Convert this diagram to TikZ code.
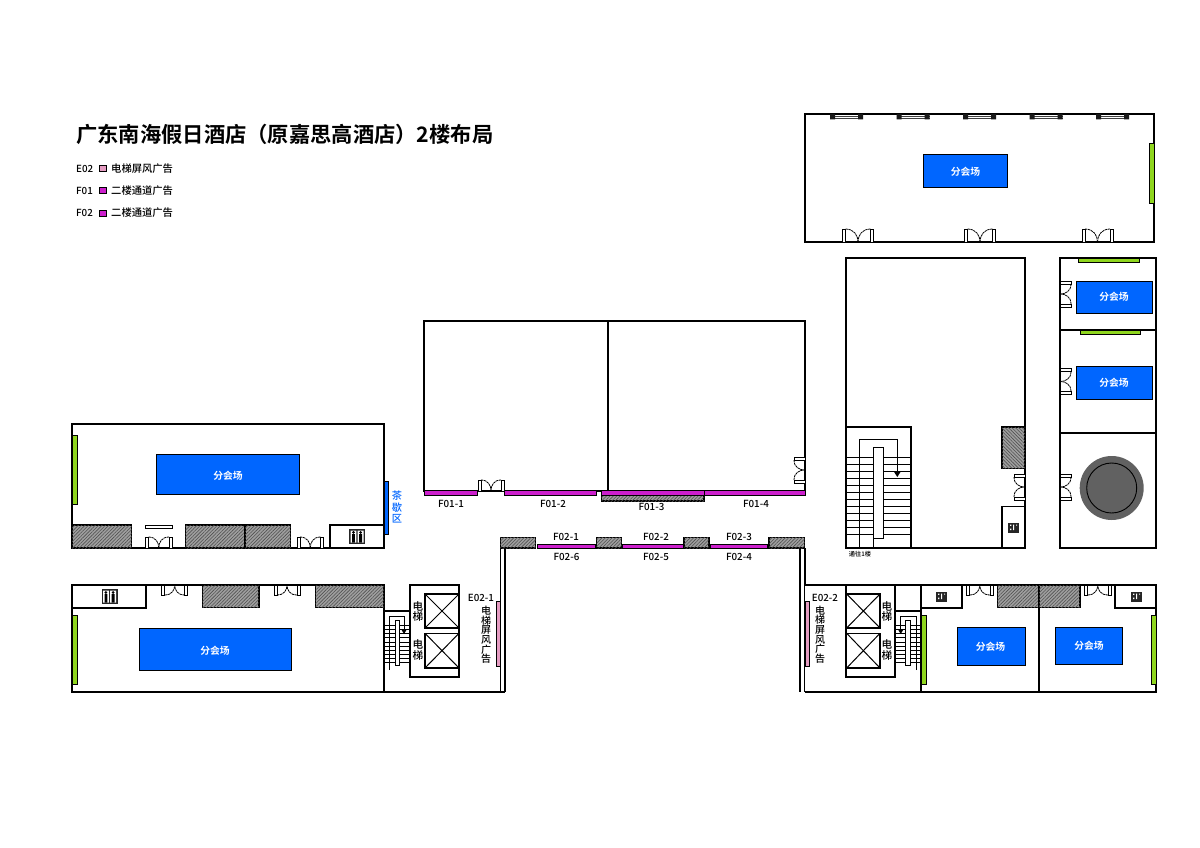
\documentclass[tikz,border=0pt]{standalone}
\usepackage{fontspec}
\setmainfont{Noto Sans CJK SC}[UprightFont=* Medium,BoldFont=* Bold]
\usetikzlibrary{patterns.meta}
\definecolor{hallblue}{HTML}{0066FF}
\definecolor{wallgreen}{HTML}{8FD61E}
\definecolor{adpink}{HTML}{E59CC2}
\definecolor{admag}{HTML}{CC1FCC}
\definecolor{hatchdark}{HTML}{505050}
\tikzset{
  wall/.style={draw=black,line width=1.4pt,fill=white},
  ln/.style={draw=black,line width=1.4pt},
  thinln/.style={draw=black,line width=1pt},
  hatch/.style={draw=black,line width=1.1pt,fill=gray!75,postaction={pattern={Lines[angle=45,distance=2.4pt,line width=.6pt]},pattern color=hatchdark}},
  hatchb/.style={draw=black,line width=1.1pt,fill=gray!75,postaction={pattern={Lines[angle=-45,distance=2.4pt,line width=.6pt]},pattern color=hatchdark}},
  hall/.style={draw=black,line width=1pt,fill=hallblue},
  green/.style={draw=black,line width=.9pt,fill=wallgreen},
  pinkbar/.style={draw=black,line width=.7pt,fill=adpink},
  magbar/.style={draw=black,line width=.6pt,fill=admag},
  hallt/.style={text=white,font=\fontsize{9.8}{10}\selectfont\bfseries,inner sep=0pt},
  lab/.style={text=black,font=\fontsize{9.8}{10}\selectfont,inner sep=0pt},
  ltx/.style={text=black,font=\fontsize{10.3}{10}\selectfont,inner sep=0pt},
  vlab/.style={text=black,font=\fontsize{10}{9.6}\selectfont,inner sep=0pt,align=center},
  vlabb/.style={text=black,font=\fontsize{10.6}{9.6}\selectfont,inner sep=0pt,align=center},
}
\newcommand{\doorpair}[4]{% origin, transform, width, depth
  \begin{scope}[shift={(#1)},#2]
    \draw[wall,line width=.9pt] (0,0) rectangle (3,-#4);
    \draw[wall,line width=.9pt] (#3-3,0) rectangle (#3,-#4);
    \draw[black,line width=.8pt,dash pattern=on 2.4pt off .6pt] (3,-#4) .. controls (3+#3*.28,-#4) and (#3*.5,-#4*.5) .. (#3*.5,0);
    \draw[black,line width=.8pt,dash pattern=on 2.4pt off .6pt] (#3-3,-#4) .. controls (#3-3-#3*.28,-#4) and (#3*.5,-#4*.5) .. (#3*.5,0);
  \end{scope}}
\newcommand{\wc}[1]{% large toilet icon, top-left corner
  \begin{scope}[shift={(#1)}]
    \fill[black!85] (0,0) rectangle (16,15);
    \fill[white] (1.5,1.5) rectangle (7.3,13.5) (8.7,1.5) rectangle (14.5,13.5);
    \fill[black] (4.4,3.4) circle (1.5) (11.6,3.4) circle (1.5);
    \fill[black] (3,5) rectangle (5.8,13.5) (10.2,5) rectangle (13,13.5);
  \end{scope}}
\newcommand{\wcs}[1]{%
  \begin{scope}[shift={(#1)}]
    \fill[black!85] (0,0) rectangle (11,10);
    \fill[white] (2,2) rectangle (3.4,3.4) (2,6) rectangle (3.4,7.6) (5,2) rectangle (6.2,7.6) (8,2) rectangle (9,3.2);
  \end{scope}}
\newcommand{\window}[1]{%
  \begin{scope}[shift={(#1,114)}]
    \draw[black!75,line width=.8pt] (0,2) -- (33,2) (0,4.6) -- (33,4.6);
    \fill[black!90] (0,0) rectangle (5,5.4) (28,0) rectangle (33,5.4);
  \end{scope}}
\newcommand{\elev}[2]{% x1,y1 x2,y2
  \draw[wall] (#1) rectangle (#2);
  \path (#1) coordinate (eA) (#2) coordinate (eB);
  \draw[thinln] (eA) -- (eB) (eA |- eB) -- (eB |- eA);}
\begin{document}
\begin{tikzpicture}[x=1pt,y=-1pt]
\useasboundingbox (0,0) rectangle (1200,848);
\fill[white] (0,0) rectangle (1200,848);

% title and legend
\node[anchor=west,inner sep=0pt,font=\fontsize{21.3}{22}\selectfont\bfseries] (title) at (76,134.5) {广东南海假日酒店（原嘉思高酒店）2楼布局};
\node[lab,anchor=west] (le1) at (76,169) {E02};
\node[lab,anchor=west] (le2) at (76,191) {F01};
\node[lab,anchor=west] (le3) at (76,213) {F02};
\draw[pinkbar,line width=1pt] (99,166) rectangle (106.5,172);
\draw[magbar,line width=1pt] (99,188) rectangle (106.5,194);
\draw[magbar,line width=1pt] (99,210) rectangle (106.5,216);
\node[ltx,anchor=west] (lt1) at (111,169) {电梯屏风广告};
\node[ltx,anchor=west] (lt2) at (111,191) {二楼通道广告};
\node[ltx,anchor=west] (lt3) at (111,213) {二楼通道广告};

% top right hall
\draw[wall] (805,114) rectangle (1154,242);
\window{830}\window{896.5}\window{963}\window{1029.5}\window{1096}
\draw[green] (1149,143) rectangle (1154,203);
\draw[hall] (923,155) rectangle (1007.5,188);
\node[hallt] (h1) at (965.5,172) {分会场};
\doorpair{842.5,242}{}{31}{13}
\doorpair{964.5,242}{}{31}{13}
\doorpair{1082,242}{}{31}{13}

% tall room
\draw[wall] (846,258) rectangle (1025,548);
\draw[ln] (846,427) -- (911,427) -- (911,548);
\foreach \k in {0,...,11}{\draw[thinln] (846,457.3+\k*7.05) -- (911,457.3+\k*7.05);}
\draw[thinln] (859,548) -- (859,439.3) -- (897.3,439.3) -- (897.3,472);
\fill[black] (893.8,471.5) -- (900.8,471.5) -- (897.3,477) -- cycle;
\draw[wall,line width=1pt] (873,447) rectangle (883.7,538);
\draw[thinln] (873,538) -- (873,548);
\path[hatchb] (1002,427) rectangle (1025,468.5);
\doorpair{1025,500}{rotate=90}{26}{11}
\draw[ln] (1002,548) -- (1002,506.5) -- (1025,506.5);
\wcs{1008,522.5}
\node[lab,font=\fontsize{6.2}{7}\selectfont] (tolevel) at (860,554.5) {通往1楼};

% right column
\draw[wall] (1060,258) rectangle (1156,548);
\draw[ln] (1060,330) -- (1156,330) (1060,433) -- (1156,433);
\draw[green] (1078,258) rectangle (1139,262);
\draw[green] (1080,330) rectangle (1140,334);
\draw[hall] (1076,281) rectangle (1152,313.5);
\draw[hall] (1076,366) rectangle (1152,399);
\node[hallt] (h2) at (1114,297) {分会场};
\node[hallt] (h3) at (1114,383) {分会场};
\doorpair{1060,281}{rotate=-90}{26}{11}
\doorpair{1060,368.5}{rotate=-90}{26}{11}
\doorpair{1060,474}{rotate=-90}{26}{11}
\fill[black!62] (1111.7,488) circle (32);
\draw[black,line width=.9pt] (1111.7,488) circle (25);

% central halls
\draw[wall] (424,321) rectangle (805,491);
\draw[ln] (608,321) -- (608,491);
\doorpair{478,491}{}{26}{11}
\doorpair{805,483}{rotate=90}{26}{11}
\path[hatch] (601.7,495) rectangle (704,501);
\draw[magbar] (424,490.7) rectangle (477,495);
\draw[magbar] (504,490.7) rectangle (596,495);
\draw[magbar] (601.7,490.7) rectangle (704,495);
\draw[magbar] (704,490.7) rectangle (805,495);
\node[lab] (f11) at (451,504) {F01-1};
\node[lab] (f12) at (553,504) {F01-2};
\node[lab] (f13) at (651.5,507) {F01-3};
\node[lab] (f14) at (756,504) {F01-4};

% corridor
\draw[ln] (500.3,548) -- (500.3,692) (505,548) -- (505,692);
\draw[ln] (800,548) -- (800,692) (805,548) -- (805,692);
\path[hatch] (500.3,537.7) rectangle (535.7,548);
\path[hatch] (596.5,537.7) rectangle (621.5,548);
\path[hatch] (684,537.7) rectangle (709,548);
\path[hatch] (769,537.7) rectangle (804.6,548);
\draw[magbar] (537,544) rectangle (595,548);
\draw[magbar] (622,544) rectangle (683,548);
\draw[magbar] (710,544) rectangle (767,548);
\node[lab] (f21) at (566,537) {F02-1};
\node[lab] (f22) at (656,537) {F02-2};
\node[lab] (f23) at (739,537) {F02-3};
\node[lab] (f26) at (566.5,557) {F02-6};
\node[lab] (f25) at (656,557) {F02-5};
\node[lab] (f24) at (739,557) {F02-4};

% left mid hall
\draw[wall] (72,424) rectangle (384,548);
\draw[green] (72,435.7) rectangle (77,504);
\draw[hall] (156.7,454) rectangle (299.3,494);
\node[hallt] (h4) at (228,476) {分会场};
\path[hatch] (72,525) rectangle (131.7,548);
\path[hatch] (185.5,525) rectangle (245,548);
\path[hatch] (245,525) rectangle (290.7,548);
\draw[wall,line width=.9pt] (145.5,525) rectangle (172,528);
\doorpair{145.5,548}{}{26.5}{11}
\doorpair{297,548}{}{26.5}{11}
\draw[ln] (330,548) -- (330,525) -- (384,525);
\wc{349,529}
\draw[draw=black,line width=.7pt,fill=hallblue] (384,481) rectangle (388,534);
\node[vlab,text=hallblue,font=\fontsize{10.2}{11.3}\selectfont] (tea) at (397,507) {茶\\歇\\区};

% bottom left hall
\draw[wall] (72,585) rectangle (384,692);
\draw[ln] (72,608) -- (146,608) -- (146,585);
\wc{101.5,589}
\doorpair{161.7,585}{yscale=-1}{26}{10}
\doorpair{274,585}{yscale=-1}{26}{10}
\path[hatch] (202.7,585) rectangle (259,607.5);
\path[hatch] (315.7,585) rectangle (384,607.5);
\draw[green] (72,615.7) rectangle (77,684);
\draw[hall] (139.3,628) rectangle (291.7,670);
\node[hallt] (h5) at (215,651) {分会场};

% left lifts and stairs
\draw[ln] (384,611) -- (410,611);
\draw[ln] (384,692) -- (505,692);
\foreach \k in {0,...,9}{\draw[black,line width=.8pt] (384,625.5+\k*4.1) -- (410,625.5+\k*4.1);}
\draw[thinln] (389,670) -- (389,616.7) -- (404,616.7) -- (404,629.5);
\fill[black] (401,629) -- (407,629) -- (404,634) -- cycle;
\draw[wall,line width=.9pt] (395,620.7) rectangle (399,665);
\draw[wall] (410,585) rectangle (459,677);
\elev{425,594}{459,628}
\elev{425,633.3}{459,668}
\node[vlabb] (el1) at (418,611.5) {电\\梯};
\node[vlabb] (el2) at (418,650) {电\\梯};
\draw[pinkbar] (496,601) rectangle (500.3,666.7);
\node[lab] (e021) at (481,598) {E02-1};
\node[vlab] (ev1) at (486,635) {电\\梯\\屏\\风\\广\\告};

% right block
\draw[wall] (805,585) -- (1156,585) -- (1156,692) -- (805,692);
\draw[ln] (921,585) -- (921,692);
\draw[ln] (1039,585) -- (1039,692);
\draw[ln] (895,611) -- (921,611);
\foreach \k in {0,...,9}{\draw[black,line width=.8pt] (895,625.5+\k*4.1) -- (921,625.5+\k*4.1);}
\draw[thinln] (916,670) -- (916,616.7) -- (900.7,616.7) -- (900.7,629.5);
\fill[black] (897.7,629) -- (903.7,629) -- (900.7,634) -- cycle;
\draw[wall,line width=.9pt] (905.7,620.7) rectangle (910,665);
\draw[wall] (846,585) rectangle (895,677);
\elev{846.7,594}{880,628}
\elev{846.7,633.3}{880,668}
\node[vlabb] (el3) at (887,611.5) {电\\梯};
\node[vlabb] (el4) at (887,650) {电\\梯};
\draw[pinkbar] (805,601) rectangle (809.5,666.7);
\node[lab] (e022) at (825,598) {E02-2};
\node[vlab] (ev2) at (820,634.5) {电\\梯\\屏\\风\\广\\告};
\draw[ln] (921,608) -- (962,608) -- (962,585);
\wcs{936,591.5}
\doorpair{966.5,585}{yscale=-1}{26.5}{10}
\path[hatch] (997.5,585) rectangle (1039,607.5);
\path[hatch] (1039,585) rectangle (1080,607.5);
\doorpair{1084.5,585}{yscale=-1}{26.5}{10}
\draw[ln] (1115,585) -- (1115,608) -- (1156,608);
\wcs{1131,591.5}
\draw[green] (921,615.5) rectangle (926,684);
\draw[green] (1151.5,615.5) rectangle (1156,684);
\draw[hall] (957,627.5) rectangle (1025,665);
\draw[hall] (1055.3,627.5) rectangle (1122.7,664.5);
\node[hallt] (h6) at (990.5,647) {分会场};
\node[hallt] (h7) at (1089,646) {分会场};
\end{tikzpicture}
\end{document}
